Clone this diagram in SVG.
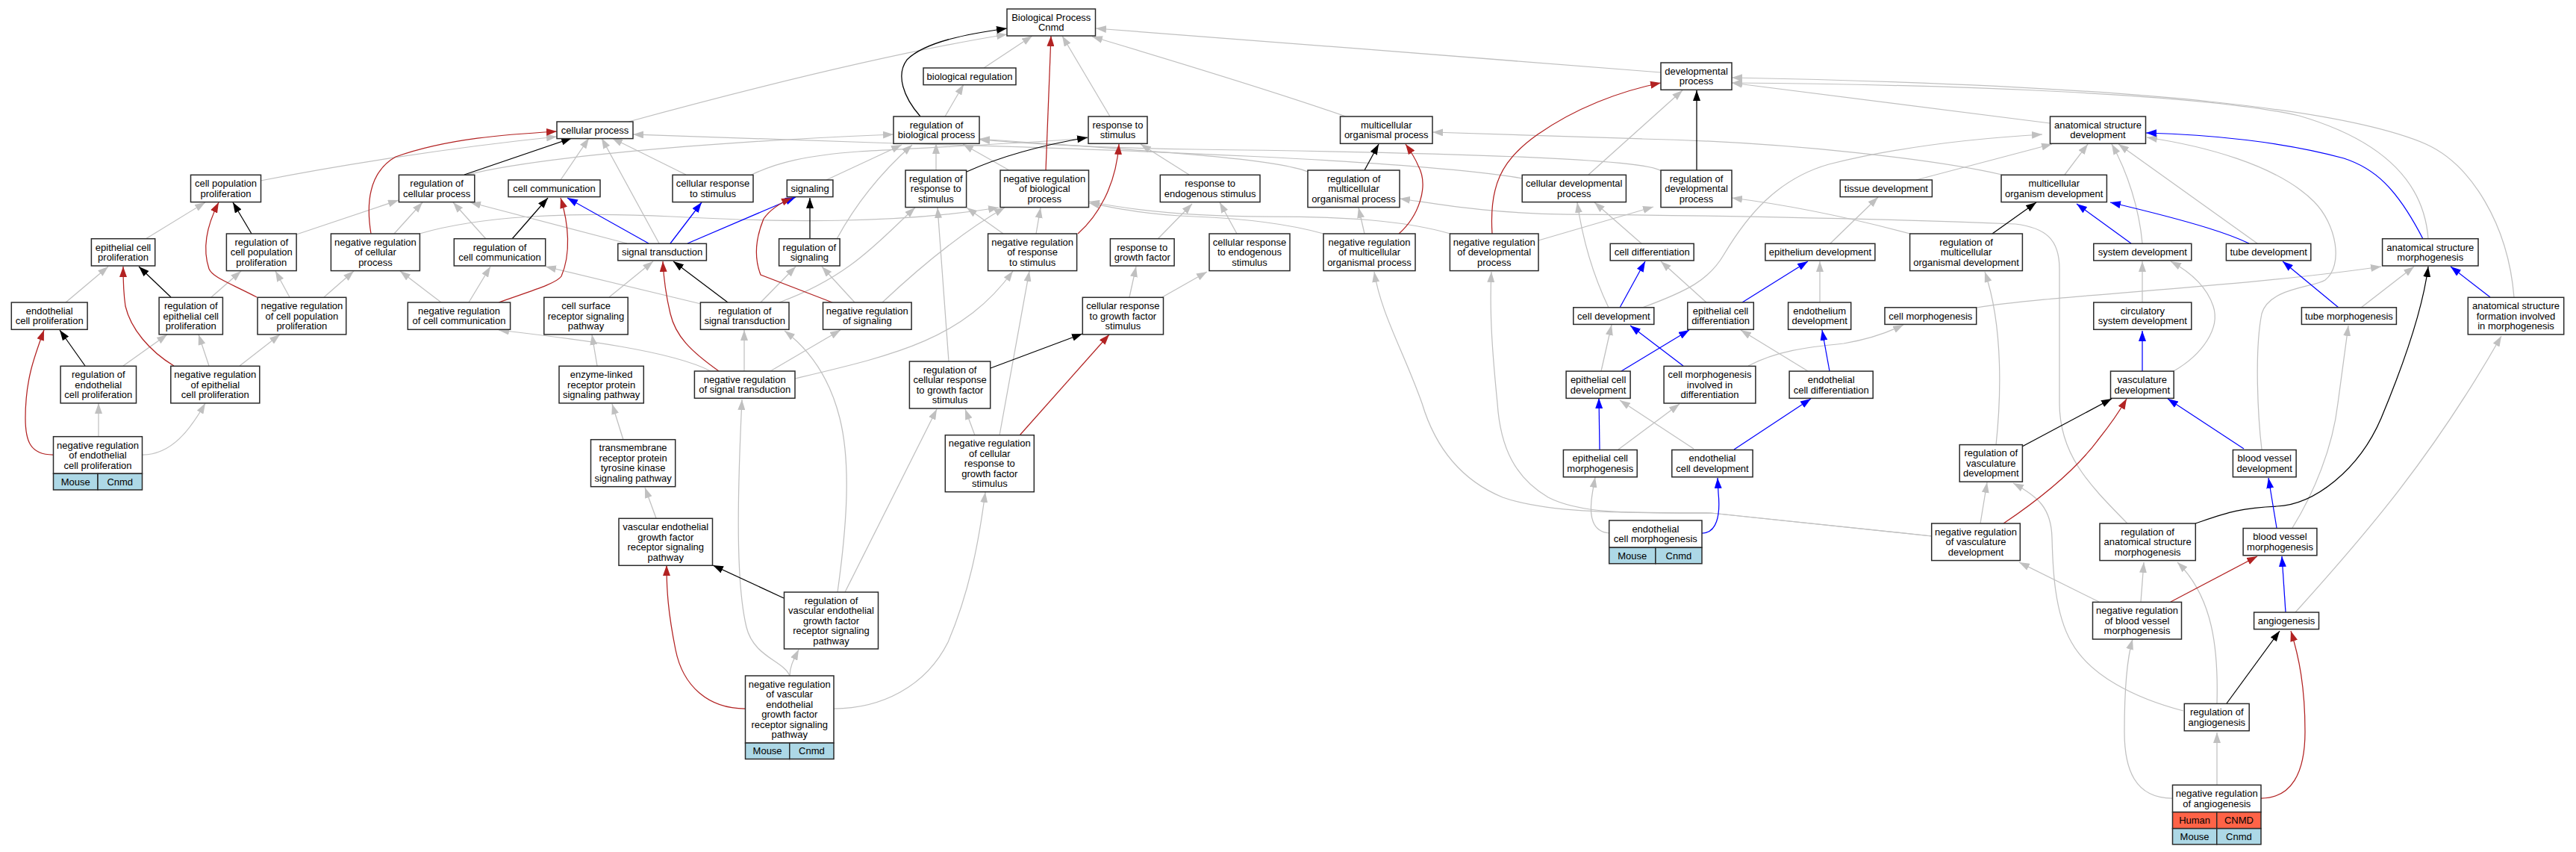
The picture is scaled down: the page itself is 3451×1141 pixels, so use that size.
<svg xmlns="http://www.w3.org/2000/svg" width="3451" height="1141" viewBox="0 0 3451 1141">
<style>
.n rect{fill:#fff;stroke:#2a2a2a;stroke-width:1.5}
.n rect.ms{fill:#add8e6}
.n rect.hs{fill:#ff6347}
text{font-family:"Liberation Sans",Arial,sans-serif;font-size:13px;text-anchor:middle;fill:#000}
#edges path{fill:none;stroke-width:1.25}
#edges .g{stroke:#c0c0c0;marker-end:url(#mg)}
#edges .k{stroke:#000;marker-end:url(#mk)}
#edges .b{stroke:#0000ff;marker-end:url(#mb)}
#edges .r{stroke:#b22222;marker-end:url(#mr)}
</style>
<defs>
<marker id="mg" viewBox="0 0 14 10" refX="14" refY="5" markerWidth="14" markerHeight="10" markerUnits="userSpaceOnUse" orient="auto"><path d="M0,0 L14,5 L0,10 z" fill="#c0c0c0"/></marker>
<marker id="mk" viewBox="0 0 14 10" refX="14" refY="5" markerWidth="14" markerHeight="10" markerUnits="userSpaceOnUse" orient="auto"><path d="M0,0 L14,5 L0,10 z" fill="#000"/></marker>
<marker id="mb" viewBox="0 0 14 10" refX="14" refY="5" markerWidth="14" markerHeight="10" markerUnits="userSpaceOnUse" orient="auto"><path d="M0,0 L14,5 L0,10 z" fill="#0000ff"/></marker>
<marker id="mr" viewBox="0 0 14 10" refX="14" refY="5" markerWidth="14" markerHeight="10" markerUnits="userSpaceOnUse" orient="auto"><path d="M0,0 L14,5 L0,10 z" fill="#b22222"/></marker>
</defs>
<rect x="0" y="0" width="3451" height="1141" fill="#fff"/>
<g id="edges">
<path class="g" d="M195,320 L275,271"/>
<path class="g" d="M88,405 L145,357"/>
<path class="g" d="M283,398 L323,363"/>
<path class="g" d="M388,398 L369,363"/>
<path class="g" d="M434,398 L474,363"/>
<path class="g" d="M280,490 L266,448"/>
<path class="g" d="M321,490 L375,448"/>
<path class="g" d="M165,490 L224,448"/>
<path class="g" d="M132,585 L132,540"/>
<path class="g" d="M191,609 C230,609 255,575 275,540"/>
<path class="g" d="M397,314 L534,268"/>
<path class="g" d="M528,313 L566,271"/>
<path class="g" d="M591,405 L536,363"/>
<path class="g" d="M349,242 C450,222 600,198 746,183"/>
<path class="g" d="M651,320 L607,271"/>
<path class="g" d="M628,405 L657,357"/>
<path class="g" d="M751,241 L789,185"/>
<path class="g" d="M883,326 L806,185"/>
<path class="g" d="M919,234 L820,185"/>
<path class="g" d="M840,326 L630,271"/>
<path class="g" d="M939,407 L731,357"/>
<path class="g" d="M816,398 L875,350"/>
<path class="g" d="M800,490 L793,448"/>
<path class="g" d="M835,589 L820,541"/>
<path class="g" d="M879,694 L864,653"/>
<path class="g" d="M952,497 C900,470 780,455 668,442"/>
<path class="g" d="M997,497 L997,442"/>
<path class="g" d="M1019,405 L1066,357"/>
<path class="g" d="M1145,405 L1101,357"/>
<path class="g" d="M1032,497 L1126,442"/>
<path class="g" d="M1044,405 C1140,370 1180,320 1226,278"/>
<path class="g" d="M1065,507 C1200,475 1290,455 1357,363"/>
<path class="g" d="M1058,905 C1050,885 1010,880 1000,840 C988,790 986,700 994,535"/>
<path class="g" d="M1122,793 C1135,700 1140,620 1125,560 C1110,500 1080,465 1051,443"/>
<path class="g" d="M1132,793 L1255,548"/>
<path class="g" d="M1058,905 C1058,892 1064,882 1070,870"/>
<path class="g" d="M1117,949 C1180,949 1240,920 1270,860 C1300,790 1312,720 1320,659"/>
<path class="g" d="M1306,583 L1293,548"/>
<path class="g" d="M1339,583 C1350,520 1365,440 1379,363"/>
<path class="g" d="M1271,484 L1256,278"/>
<path class="g" d="M1513,398 L1522,357"/>
<path class="g" d="M1557,398 L1617,364"/>
<path class="g" d="M1551,320 L1597,273"/>
<path class="g" d="M1657,313 L1634,271"/>
<path class="g" d="M1593,234 L1528,193"/>
<path class="g" d="M1344,313 L1295,278"/>
<path class="g" d="M1388,313 L1394,278"/>
<path class="g" d="M1182,405 C1230,360 1290,310 1346,278"/>
<path class="g" d="M562,313 C640,290 760,283 900,290 C1050,298 1200,300 1338,278"/>
<path class="g" d="M1121,320 C1140,285 1170,240 1222,194"/>
<path class="g" d="M1107,241 L1208,194"/>
<path class="g" d="M1254,228 L1254,192"/>
<path class="g" d="M1352,228 L1290,193"/>
<path class="g" d="M1266,156 L1291,113"/>
<path class="g" d="M1318,91 L1383,48"/>
<path class="g" d="M1487,156 L1423,48"/>
<path class="g" d="M842,163 C1000,120 1200,70 1349,46"/>
<path class="g" d="M1803,156 C1700,120 1550,75 1463,49"/>
<path class="g" d="M2225,97 C2000,80 1700,55 1468,38"/>
<path class="g" d="M626,234 C700,215 900,192 1197,180"/>
<path class="g" d="M1007,234 C1040,218 1080,208 1150,203 C1300,195 1400,190 1457,185"/>
<path class="g" d="M2040,239 C1900,215 1500,200 1200,192 C1050,188 950,183 848,180"/>
<path class="g" d="M1752,230 C1700,210 1500,200 1312,186"/>
<path class="g" d="M2225,229 C2210,215 2000,205 1600,200 C1450,198 1350,190 1312,187"/>
<path class="g" d="M2682,234 C2600,215 2400,190 2200,186 C2100,183 2000,179 1919,177"/>
<path class="g" d="M2128,234 L2254,121"/>
<path class="g" d="M2850,701 C2800,650 2759,610 2759,540 L2759,360 C2759,320 2740,305 2700,300 C2500,292 2250,288 2100,287 C1990,286 1920,272 1875,266"/>
<path class="g" d="M2559,313 C2480,292 2400,275 2320,265"/>
<path class="g" d="M2061,322 C2120,305 2170,290 2215,277"/>
<path class="g" d="M1943,313 C1880,295 1800,290 1700,290 C1600,290 1520,282 1459,270"/>
<path class="g" d="M1773,313 C1720,298 1650,292 1600,290 C1540,288 1500,280 1459,272"/>
<path class="g" d="M1828,313 L1820,278"/>
<path class="g" d="M2155,412 C2135,370 2120,320 2113,271"/>
<path class="g" d="M2200,327 L2136,271"/>
<path class="g" d="M2145,497 L2159,435"/>
<path class="g" d="M2286,405 L2225,350"/>
<path class="g" d="M2438,405 L2438,350"/>
<path class="g" d="M2422,497 L2332,442"/>
<path class="g" d="M2451,327 L2516,264"/>
<path class="g" d="M2567,241 L2749,193"/>
<path class="g" d="M2766,234 L2797,193"/>
<path class="g" d="M2200,412 C2260,390 2290,375 2310,340 C2340,290 2380,240 2450,220 C2550,195 2650,185 2736,180"/>
<path class="g" d="M2342,490 C2380,470 2420,465 2470,460 C2500,455 2530,445 2550,435"/>
<path class="g" d="M2168,602 L2250,541"/>
<path class="g" d="M2269,601 L2170,536"/>
<path class="g" d="M2156,714 C2132,712 2130,690 2132,670 C2133,660 2135,650 2137,639"/>
<path class="g" d="M2588,718 L2292,687 C2200,686 2080,690 2013,666 C1950,640 1920,590 1905,540 C1880,470 1850,420 1841,364"/>
<path class="g" d="M2588,718 L2292,687 C2200,687 2120,690 2074,666 C2030,640 2010,600 2006,540 C2000,480 1995,420 1998,364"/>
<path class="g" d="M2674,596 C2680,540 2685,440 2659,364"/>
<path class="g" d="M2653,701 L2662,646"/>
<path class="g" d="M2925,952 C2860,935 2800,905 2775,860 C2752,820 2750,760 2749,720 C2748,680 2730,665 2697,647"/>
<path class="g" d="M2812,806 L2705,753"/>
<path class="g" d="M2868,806 L2872,753"/>
<path class="g" d="M2970,942 C2972,870 2965,800 2917,753"/>
<path class="g" d="M2970,1051 L2970,981"/>
<path class="g" d="M2910,1069 C2860,1069 2846,1030 2846,980 C2846,920 2850,880 2857,856"/>
<path class="g" d="M3030,602 C3025,560 3020,470 3030,420 C3040,385 3100,385 3115,375 C3140,355 3130,300 3100,270 C3050,220 2950,195 2876,184"/>
<path class="g" d="M3071,707 C3100,660 3125,600 3132,540 L3146,436"/>
<path class="g" d="M3075,820 C3170,715 3260,610 3351,450"/>
<path class="g" d="M3163,412 L3234,357"/>
<path class="g" d="M2648,412 C2750,395 3000,385 3190,357"/>
<path class="g" d="M2870,405 L2870,350"/>
<path class="g" d="M2912,497 C2950,475 2975,440 2965,410 C2955,380 2930,362 2908,350"/>
<path class="g" d="M2870,326 C2866,280 2850,230 2829,193"/>
<path class="g" d="M3024,326 L2838,193"/>
<path class="g" d="M3253,320 C3248,250 3200,190 3080,155 C2950,125 2600,113 2320,111"/>
<path class="g" d="M3368,398 C3360,300 3310,220 3250,193 C3150,150 2900,115 2320,104"/>
<path class="g" d="M2746,165 L2320,111"/>
<path class="k" d="M337,313 L312,271"/>
<path class="k" d="M229,398 L186,357"/>
<path class="k" d="M114,490 L80,442"/>
<path class="k" d="M622,234 L766,185"/>
<path class="k" d="M686,320 L734,265"/>
<path class="k" d="M975,405 L902,350"/>
<path class="k" d="M1085,320 L1085,265"/>
<path class="k" d="M1233,156 C1210,130 1200,100 1215,80 C1240,55 1300,45 1349,38"/>
<path class="k" d="M1295,230 C1350,205 1410,192 1457,184"/>
<path class="k" d="M1327,493 L1450,447"/>
<path class="k" d="M1050,801 L955,757"/>
<path class="k" d="M1828,228 L1847,193"/>
<path class="k" d="M2273,228 L2273,121"/>
<path class="k" d="M2669,313 L2728,271"/>
<path class="k" d="M2709,598 L2829,534"/>
<path class="k" d="M2941,701 C2980,688 3000,680 3050,678 C3100,676 3160,630 3190,560 C3215,500 3245,420 3253,357"/>
<path class="k" d="M2983,942 L3054,845"/>
<path class="b" d="M869,326 L760,265"/>
<path class="b" d="M898,326 L940,271"/>
<path class="b" d="M921,326 L1066,264"/>
<path class="b" d="M2170,412 L2204,350"/>
<path class="b" d="M2255,490 L2184,436"/>
<path class="b" d="M2172,497 L2263,442"/>
<path class="b" d="M2334,405 L2422,350"/>
<path class="b" d="M2451,497 L2441,442"/>
<path class="b" d="M2323,602 L2426,534"/>
<path class="b" d="M2143,602 L2142,533"/>
<path class="b" d="M2280,714 C2300,714 2305,690 2302,660 L2301,640"/>
<path class="b" d="M2855,326 L2782,273"/>
<path class="b" d="M3013,326 C2990,315 2950,300 2827,271"/>
<path class="b" d="M3246,320 C3210,250 3180,225 3140,212 C3060,190 2960,180 2875,178"/>
<path class="b" d="M3133,412 L3058,350"/>
<path class="b" d="M3336,398 L3283,357"/>
<path class="b" d="M2870,497 L2870,443"/>
<path class="b" d="M3006,601 L2904,534"/>
<path class="b" d="M3050,707 L3039,640"/>
<path class="b" d="M3062,820 L3057,745"/>
<path class="r" d="M71,609 C40,609 34,590 34,560 C34,510 45,480 59,442"/>
<path class="r" d="M233,490 C200,470 175,440 168,410 C165,390 165,375 165,357"/>
<path class="r" d="M344,398 C310,380 285,372 280,360 C270,330 278,300 293,271"/>
<path class="r" d="M497,313 C490,270 495,230 530,210 C600,185 680,180 746,176"/>
<path class="r" d="M668,405 C710,390 745,380 752,370 C765,340 762,300 751,265"/>
<path class="r" d="M963,497 C925,470 905,450 898,420 C892,395 889,370 888,350"/>
<path class="r" d="M1115,405 L1019,368 C1010,345 1012,320 1023,293 C1032,280 1045,272 1061,265"/>
<path class="r" d="M1401,228 L1408,48"/>
<path class="r" d="M1444,313 C1470,290 1495,250 1499,193"/>
<path class="r" d="M1366,583 L1486,448"/>
<path class="r" d="M998,949 C950,949 915,920 905,870 C895,820 893,790 893,757"/>
<path class="r" d="M1874,313 C1900,290 1915,250 1900,222 C1895,210 1888,200 1883,193"/>
<path class="r" d="M1999,313 C1995,250 2010,215 2060,180 C2110,145 2170,122 2225,111"/>
<path class="r" d="M2684,701 C2730,670 2780,630 2810,590 C2830,565 2840,550 2849,534"/>
<path class="r" d="M2908,806 L3024,745"/>
<path class="r" d="M3029,1069 C3070,1069 3088,1035 3088,980 C3088,920 3080,880 3069,845"/>
</g>
<g id="bp" class="n"><rect x="1349" y="12" width="118.5" height="36"/><text><tspan x="1408.25" y="27.75">Biological Process</tspan><tspan x="1408.25" y="41.25">Cnmd</tspan></text></g>
<g id="bioreg" class="n"><rect x="1237" y="91" width="124" height="22.6"/><text><tspan x="1299" y="106.8">biological regulation</tspan></text></g>
<g id="devproc" class="n"><rect x="2225" y="84" width="95" height="36.3"/><text><tspan x="2272.5" y="99.9">developmental</tspan><tspan x="2272.5" y="113.4">process</tspan></text></g>
<g id="cellproc" class="n"><rect x="746" y="163" width="102" height="22.6"/><text><tspan x="797" y="178.8">cellular process</tspan></text></g>
<g id="regbio" class="n"><rect x="1197" y="156" width="115" height="36.3"/><text><tspan x="1254.5" y="171.9">regulation of</tspan><tspan x="1254.5" y="185.4">biological process</tspan></text></g>
<g id="respstim" class="n"><rect x="1458" y="156" width="79" height="36.3"/><text><tspan x="1497.5" y="171.9">response to</tspan><tspan x="1497.5" y="185.4">stimulus</tspan></text></g>
<g id="multiproc" class="n"><rect x="1795.5" y="156" width="123.5" height="36.3"/><text><tspan x="1857.25" y="171.9">multicellular</tspan><tspan x="1857.25" y="185.4">organismal process</tspan></text></g>
<g id="anatdev" class="n"><rect x="2746.5" y="156" width="128" height="36.3"/><text><tspan x="2810.5" y="171.9">anatomical structure</tspan><tspan x="2810.5" y="185.4">development</tspan></text></g>
<g id="cellpopprolif" class="n"><rect x="255.5" y="234.3" width="94" height="36.3"/><text><tspan x="302.5" y="250.2">cell population</tspan><tspan x="302.5" y="263.7">proliferation</tspan></text></g>
<g id="regcellproc" class="n"><rect x="534.4" y="234.3" width="101.4" height="36.3"/><text><tspan x="585.1" y="250.2">regulation of</tspan><tspan x="585.1" y="263.7">cellular process</tspan></text></g>
<g id="cellcomm" class="n"><rect x="681" y="241" width="123" height="22.6"/><text><tspan x="742.5" y="256.8">cell communication</tspan></text></g>
<g id="cellrespstim" class="n"><rect x="901" y="234.3" width="108" height="36.3"/><text><tspan x="955" y="250.2">cellular response</tspan><tspan x="955" y="263.7">to stimulus</tspan></text></g>
<g id="signaling" class="n"><rect x="1054.3" y="241" width="61.6" height="22.6"/><text><tspan x="1085.1" y="256.8">signaling</tspan></text></g>
<g id="regrespstim" class="n"><rect x="1213" y="228" width="81.6" height="49.6"/><text><tspan x="1253.8" y="243.8">regulation of</tspan><tspan x="1253.8" y="257.3">response to</tspan><tspan x="1253.8" y="270.8">stimulus</tspan></text></g>
<g id="negregbio" class="n"><rect x="1340" y="228" width="118.5" height="49.6"/><text><tspan x="1399.25" y="243.8">negative regulation</tspan><tspan x="1399.25" y="257.3">of biological</tspan><tspan x="1399.25" y="270.8">process</tspan></text></g>
<g id="respendo" class="n"><rect x="1554.3" y="234.3" width="133.7" height="36.3"/><text><tspan x="1621.15" y="250.2">response to</tspan><tspan x="1621.15" y="263.7">endogenous stimulus</tspan></text></g>
<g id="regmulti" class="n"><rect x="1752" y="228" width="123" height="49.6"/><text><tspan x="1813.5" y="243.8">regulation of</tspan><tspan x="1813.5" y="257.3">multicellular</tspan><tspan x="1813.5" y="270.8">organismal process</tspan></text></g>
<g id="celldevproc" class="n"><rect x="2039.2" y="234.3" width="139.2" height="36.3"/><text><tspan x="2108.8" y="250.2">cellular developmental</tspan><tspan x="2108.8" y="263.7">process</tspan></text></g>
<g id="regdevproc" class="n"><rect x="2225" y="228" width="95" height="49.6"/><text><tspan x="2272.5" y="243.8">regulation of</tspan><tspan x="2272.5" y="257.3">developmental</tspan><tspan x="2272.5" y="270.8">process</tspan></text></g>
<g id="tissuedev" class="n"><rect x="2465.2" y="241" width="123.2" height="22.6"/><text><tspan x="2526.8" y="256.8">tissue development</tspan></text></g>
<g id="multiorgdev" class="n"><rect x="2681" y="234.3" width="141.4" height="36.3"/><text><tspan x="2751.7" y="250.2">multicellular</tspan><tspan x="2751.7" y="263.7">organism development</tspan></text></g>
<g id="epicellprolif" class="n"><rect x="122.4" y="319.7" width="85.3" height="36.3"/><text><tspan x="165.05" y="335.6">epithelial cell</tspan><tspan x="165.05" y="349.1">proliferation</tspan></text></g>
<g id="regcellpopprolif" class="n"><rect x="303.4" y="313" width="93.7" height="49.6"/><text><tspan x="350.25" y="328.8">regulation of</tspan><tspan x="350.25" y="342.3">cell population</tspan><tspan x="350.25" y="355.8">proliferation</tspan></text></g>
<g id="negregcellproc" class="n"><rect x="443.4" y="313" width="119" height="49.6"/><text><tspan x="502.9" y="328.8">negative regulation</tspan><tspan x="502.9" y="342.3">of cellular</tspan><tspan x="502.9" y="355.8">process</tspan></text></g>
<g id="regcellcomm" class="n"><rect x="608.3" y="319.7" width="122.4" height="36.3"/><text><tspan x="669.5" y="335.6">regulation of</tspan><tspan x="669.5" y="349.1">cell communication</tspan></text></g>
<g id="sigtrans" class="n"><rect x="827.8" y="326.3" width="118.6" height="22.6"/><text><tspan x="887.1" y="342.1">signal transduction</tspan></text></g>
<g id="regsignaling" class="n"><rect x="1043.6" y="319.7" width="81.5" height="36.3"/><text><tspan x="1084.35" y="335.6">regulation of</tspan><tspan x="1084.35" y="349.1">signaling</tspan></text></g>
<g id="negregrespstim" class="n"><rect x="1323.6" y="313" width="119" height="49.6"/><text><tspan x="1383.1" y="328.8">negative regulation</tspan><tspan x="1383.1" y="342.3">of response</tspan><tspan x="1383.1" y="355.8">to stimulus</tspan></text></g>
<g id="respgf" class="n"><rect x="1487.4" y="319.7" width="85.7" height="36.3"/><text><tspan x="1530.25" y="335.6">response to</tspan><tspan x="1530.25" y="349.1">growth factor</tspan></text></g>
<g id="cellrespendo" class="n"><rect x="1620" y="313" width="108" height="49.6"/><text><tspan x="1674" y="328.8">cellular response</tspan><tspan x="1674" y="342.3">to endogenous</tspan><tspan x="1674" y="355.8">stimulus</tspan></text></g>
<g id="negregmulti" class="n"><rect x="1773" y="313" width="123" height="49.6"/><text><tspan x="1834.5" y="328.8">negative regulation</tspan><tspan x="1834.5" y="342.3">of multicellular</tspan><tspan x="1834.5" y="355.8">organismal process</tspan></text></g>
<g id="negregdev" class="n"><rect x="1942.4" y="313" width="118.6" height="49.6"/><text><tspan x="2001.7" y="328.8">negative regulation</tspan><tspan x="2001.7" y="342.3">of developmental</tspan><tspan x="2001.7" y="355.8">process</tspan></text></g>
<g id="celldiff" class="n"><rect x="2157.2" y="326.3" width="112" height="22.6"/><text><tspan x="2213.2" y="342.1">cell differentiation</tspan></text></g>
<g id="epithdev" class="n"><rect x="2364.9" y="326.3" width="147" height="22.6"/><text><tspan x="2438.4" y="342.1">epithelium development</tspan></text></g>
<g id="regmultiorgdev" class="n"><rect x="2558.6" y="313" width="150.8" height="49.6"/><text><tspan x="2634" y="328.8">regulation of</tspan><tspan x="2634" y="342.3">multicellular</tspan><tspan x="2634" y="355.8">organismal development</tspan></text></g>
<g id="sysdev" class="n"><rect x="2804.8" y="326.3" width="131" height="22.6"/><text><tspan x="2870.3" y="342.1">system development</tspan></text></g>
<g id="tubedev" class="n"><rect x="2982.4" y="326.3" width="113.4" height="22.6"/><text><tspan x="3039.1" y="342.1">tube development</tspan></text></g>
<g id="anatmorph" class="n"><rect x="3191.6" y="319.7" width="128.4" height="36.3"/><text><tspan x="3255.8" y="335.6">anatomical structure</tspan><tspan x="3255.8" y="349.1">morphogenesis</tspan></text></g>
<g id="endocellprolif" class="n"><rect x="15.3" y="405" width="101.8" height="36.3"/><text><tspan x="66.2" y="420.9">endothelial</tspan><tspan x="66.2" y="434.4">cell proliferation</tspan></text></g>
<g id="regepicellprolif" class="n"><rect x="213.1" y="398.3" width="85.3" height="49.6"/><text><tspan x="255.75" y="414.1">regulation of</tspan><tspan x="255.75" y="427.6">epithelial cell</tspan><tspan x="255.75" y="441.1">proliferation</tspan></text></g>
<g id="negregcellpopprolif" class="n"><rect x="345" y="398.3" width="118.7" height="49.6"/><text><tspan x="404.35" y="414.1">negative regulation</tspan><tspan x="404.35" y="427.6">of cell population</tspan><tspan x="404.35" y="441.1">proliferation</tspan></text></g>
<g id="negregcellcomm" class="n"><rect x="546.3" y="405" width="137.3" height="36.3"/><text><tspan x="614.95" y="420.9">negative regulation</tspan><tspan x="614.95" y="434.4">of cell communication</tspan></text></g>
<g id="cellsurf" class="n"><rect x="728.8" y="398.3" width="112.4" height="49.6"/><text><tspan x="785" y="414.1">cell surface</tspan><tspan x="785" y="427.6">receptor signaling</tspan><tspan x="785" y="441.1">pathway</tspan></text></g>
<g id="regsigtrans" class="n"><rect x="938.4" y="405" width="118.6" height="36.3"/><text><tspan x="997.7" y="420.9">regulation of</tspan><tspan x="997.7" y="434.4">signal transduction</tspan></text></g>
<g id="negregsignaling" class="n"><rect x="1102.5" y="405" width="118.6" height="36.3"/><text><tspan x="1161.8" y="420.9">negative regulation</tspan><tspan x="1161.8" y="434.4">of signaling</tspan></text></g>
<g id="cellrespgf" class="n"><rect x="1450.3" y="398.3" width="108.2" height="49.6"/><text><tspan x="1504.4" y="414.1">cellular response</tspan><tspan x="1504.4" y="427.6">to growth factor</tspan><tspan x="1504.4" y="441.1">stimulus</tspan></text></g>
<g id="celldev" class="n"><rect x="2107.8" y="411.8" width="108" height="22.6"/><text><tspan x="2161.8" y="427.6">cell development</tspan></text></g>
<g id="epicelldiff" class="n"><rect x="2260.8" y="405" width="88.5" height="36.3"/><text><tspan x="2305.05" y="420.9">epithelial cell</tspan><tspan x="2305.05" y="434.4">differentiation</tspan></text></g>
<g id="endothdev" class="n"><rect x="2395.6" y="405" width="84.1" height="36.3"/><text><tspan x="2437.65" y="420.9">endothelium</tspan><tspan x="2437.65" y="434.4">development</tspan></text></g>
<g id="cellmorph" class="n"><rect x="2525" y="411.8" width="122.7" height="22.6"/><text><tspan x="2586.35" y="427.6">cell morphogenesis</tspan></text></g>
<g id="circsysdev" class="n"><rect x="2804.8" y="405" width="131" height="36.3"/><text><tspan x="2870.3" y="420.9">circulatory</tspan><tspan x="2870.3" y="434.4">system development</tspan></text></g>
<g id="tubemorph" class="n"><rect x="3083.4" y="411.8" width="127" height="22.6"/><text><tspan x="3146.9" y="427.6">tube morphogenesis</tspan></text></g>
<g id="anatform" class="n"><rect x="3306.3" y="398.3" width="128.4" height="49.6"/><text><tspan x="3370.5" y="414.1">anatomical structure</tspan><tspan x="3370.5" y="427.6">formation involved</tspan><tspan x="3370.5" y="441.1">in morphogenesis</tspan></text></g>
<g id="regendocellprolif" class="n"><rect x="81.1" y="490.3" width="101.4" height="49.6"/><text><tspan x="131.8" y="506.1">regulation of</tspan><tspan x="131.8" y="519.6">endothelial</tspan><tspan x="131.8" y="533.1">cell proliferation</tspan></text></g>
<g id="negregepicellprolif" class="n"><rect x="228.8" y="490.3" width="119" height="49.6"/><text><tspan x="288.3" y="506.1">negative regulation</tspan><tspan x="288.3" y="519.6">of epithelial</tspan><tspan x="288.3" y="533.1">cell proliferation</tspan></text></g>
<g id="enzyme" class="n"><rect x="749" y="490.3" width="113.3" height="49.6"/><text><tspan x="805.65" y="506.1">enzyme-linked</tspan><tspan x="805.65" y="519.6">receptor protein</tspan><tspan x="805.65" y="533.1">signaling pathway</tspan></text></g>
<g id="negregsigtrans" class="n"><rect x="930.4" y="497" width="134.6" height="36.3"/><text><tspan x="997.7" y="512.9">negative regulation</tspan><tspan x="997.7" y="526.4">of signal transduction</tspan></text></g>
<g id="regcellrespgf" class="n"><rect x="1218.4" y="484" width="108.3" height="63"/><text><tspan x="1272.55" y="499.75">regulation of</tspan><tspan x="1272.55" y="513.25">cellular response</tspan><tspan x="1272.55" y="526.75">to growth factor</tspan><tspan x="1272.55" y="540.25">stimulus</tspan></text></g>
<g id="epicelldev" class="n"><rect x="2098.1" y="497.1" width="86" height="36.3"/><text><tspan x="2141.1" y="513">epithelial cell</tspan><tspan x="2141.1" y="526.5">development</tspan></text></g>
<g id="cellmorphdiff" class="n"><rect x="2229.1" y="490.4" width="122.8" height="49.6"/><text><tspan x="2290.5" y="506.2">cell morphogenesis</tspan><tspan x="2290.5" y="519.7">involved in</tspan><tspan x="2290.5" y="533.2">differentiation</tspan></text></g>
<g id="endocelldiff" class="n"><rect x="2397.1" y="497.1" width="112.1" height="36.3"/><text><tspan x="2453.15" y="513">endothelial</tspan><tspan x="2453.15" y="526.5">cell differentiation</tspan></text></g>
<g id="vascdev" class="n"><rect x="2827.5" y="497.1" width="84.7" height="36.3"/><text><tspan x="2869.85" y="513">vasculature</tspan><tspan x="2869.85" y="526.5">development</tspan></text></g>
<g id="transmem" class="n"><rect x="791.5" y="588.7" width="113.2" height="63"/><text><tspan x="848.1" y="604.45">transmembrane</tspan><tspan x="848.1" y="617.95">receptor protein</tspan><tspan x="848.1" y="631.45">tyrosine kinase</tspan><tspan x="848.1" y="644.95">signaling pathway</tspan></text></g>
<g id="negregcellrespgf" class="n"><rect x="1266.3" y="582.7" width="119" height="76"/><text><tspan x="1325.8" y="598.2">negative regulation</tspan><tspan x="1325.8" y="611.7">of cellular</tspan><tspan x="1325.8" y="625.2">response to</tspan><tspan x="1325.8" y="638.7">growth factor</tspan><tspan x="1325.8" y="652.2">stimulus</tspan></text></g>
<g id="epicellmorph" class="n"><rect x="2094.4" y="602.5" width="98.8" height="36.3"/><text><tspan x="2143.8" y="618.4">epithelial cell</tspan><tspan x="2143.8" y="631.9">morphogenesis</tspan></text></g>
<g id="endocelldev" class="n"><rect x="2239.8" y="602.5" width="108.3" height="36.3"/><text><tspan x="2293.95" y="618.4">endothelial</tspan><tspan x="2293.95" y="631.9">cell development</tspan></text></g>
<g id="regvascdev" class="n"><rect x="2625.2" y="595.6" width="84.2" height="49.6"/><text><tspan x="2667.3" y="611.4">regulation of</tspan><tspan x="2667.3" y="624.9">vasculature</tspan><tspan x="2667.3" y="638.4">development</tspan></text></g>
<g id="bvdev" class="n"><rect x="2991.4" y="602.5" width="84.7" height="36.3"/><text><tspan x="3033.75" y="618.4">blood vessel</tspan><tspan x="3033.75" y="631.9">development</tspan></text></g>
<g id="negregendocellprolif" class="n"><rect x="71.5" y="584.7" width="119" height="49.6"/><text><tspan x="131" y="600.5">negative regulation</tspan><tspan x="131" y="614">of endothelial</tspan><tspan x="131" y="627.5">cell proliferation</tspan></text><rect class="ms" x="71.5" y="634.3" width="59.5" height="21.7"/><rect class="ms" x="131" y="634.3" width="59.5" height="21.7"/><text x="101.25" y="649.6">Mouse</text><text x="160.75" y="649.6">Cnmd</text></g>
<g id="vegfr" class="n"><rect x="829" y="694.3" width="125.5" height="63"/><text><tspan x="891.75" y="710.05">vascular endothelial</tspan><tspan x="891.75" y="723.55">growth factor</tspan><tspan x="891.75" y="737.05">receptor signaling</tspan><tspan x="891.75" y="750.55">pathway</tspan></text></g>
<g id="endocellmorph" class="n"><rect x="2155.7" y="697" width="124.3" height="36.3"/><text><tspan x="2217.85" y="712.9">endothelial</tspan><tspan x="2217.85" y="726.4">cell morphogenesis</tspan></text><rect class="ms" x="2155.7" y="733.3" width="62.15" height="21.5"/><rect class="ms" x="2217.85" y="733.3" width="62.15" height="21.5"/><text x="2186.8" y="748.5">Mouse</text><text x="2248.9" y="748.5">Cnmd</text></g>
<g id="negregvascdev" class="n"><rect x="2587.7" y="701" width="118.6" height="49.6"/><text><tspan x="2647" y="716.8">negative regulation</tspan><tspan x="2647" y="730.3">of vasculature</tspan><tspan x="2647" y="743.8">development</tspan></text></g>
<g id="regAnatMorph" class="n"><rect x="2813" y="701" width="128.3" height="49.6"/><text><tspan x="2877.15" y="716.8">regulation of</tspan><tspan x="2877.15" y="730.3">anatomical structure</tspan><tspan x="2877.15" y="743.8">morphogenesis</tspan></text></g>
<g id="bvmorph" class="n"><rect x="3005.1" y="707.5" width="98.8" height="36.3"/><text><tspan x="3054.5" y="723.4">blood vessel</tspan><tspan x="3054.5" y="736.9">morphogenesis</tspan></text></g>
<g id="regvegf" class="n"><rect x="1050.5" y="793" width="126" height="76"/><text><tspan x="1113.5" y="808.5">regulation of</tspan><tspan x="1113.5" y="822">vascular endothelial</tspan><tspan x="1113.5" y="835.5">growth factor</tspan><tspan x="1113.5" y="849">receptor signaling</tspan><tspan x="1113.5" y="862.5">pathway</tspan></text></g>
<g id="negregbvmorph" class="n"><rect x="2803.5" y="806.4" width="119" height="49.6"/><text><tspan x="2863" y="822.2">negative regulation</tspan><tspan x="2863" y="835.7">of blood vessel</tspan><tspan x="2863" y="849.2">morphogenesis</tspan></text></g>
<g id="angio" class="n"><rect x="3019.6" y="820" width="86.9" height="22.6"/><text><tspan x="3063.05" y="835.8">angiogenesis</tspan></text></g>
<g id="negregvegf" class="n"><rect x="998.5" y="905" width="118.5" height="90"/><text><tspan x="1057.75" y="920.75">negative regulation</tspan><tspan x="1057.75" y="934.25">of vascular</tspan><tspan x="1057.75" y="947.75">endothelial</tspan><tspan x="1057.75" y="961.25">growth factor</tspan><tspan x="1057.75" y="974.75">receptor signaling</tspan><tspan x="1057.75" y="988.25">pathway</tspan></text><rect class="ms" x="998.5" y="995" width="59.25" height="21.5"/><rect class="ms" x="1057.75" y="995" width="59.25" height="21.5"/><text x="1028.1" y="1010.2">Mouse</text><text x="1087.4" y="1010.2">Cnmd</text></g>
<g id="regangio" class="n"><rect x="2926.3" y="942.4" width="86.9" height="36.3"/><text><tspan x="2969.75" y="958.3">regulation of</tspan><tspan x="2969.75" y="971.8">angiogenesis</tspan></text></g>
<g id="negregangio" class="n"><rect x="2910.5" y="1051.3" width="118.5" height="36.3"/><text><tspan x="2969.75" y="1067.2">negative regulation</tspan><tspan x="2969.75" y="1080.7">of angiogenesis</tspan></text><rect class="hs" x="2910.5" y="1087.6" width="59.25" height="22"/><rect class="hs" x="2969.75" y="1087.6" width="59.25" height="22"/><rect class="ms" x="2910.5" y="1109.6" width="59.25" height="21.2"/><rect class="ms" x="2969.75" y="1109.6" width="59.25" height="21.2"/><text x="2940.1" y="1103.1">Human</text><text x="2999.4" y="1103.1">CNMD</text><text x="2940.1" y="1124.7">Mouse</text><text x="2999.4" y="1124.7">Cnmd</text></g>
</svg>
